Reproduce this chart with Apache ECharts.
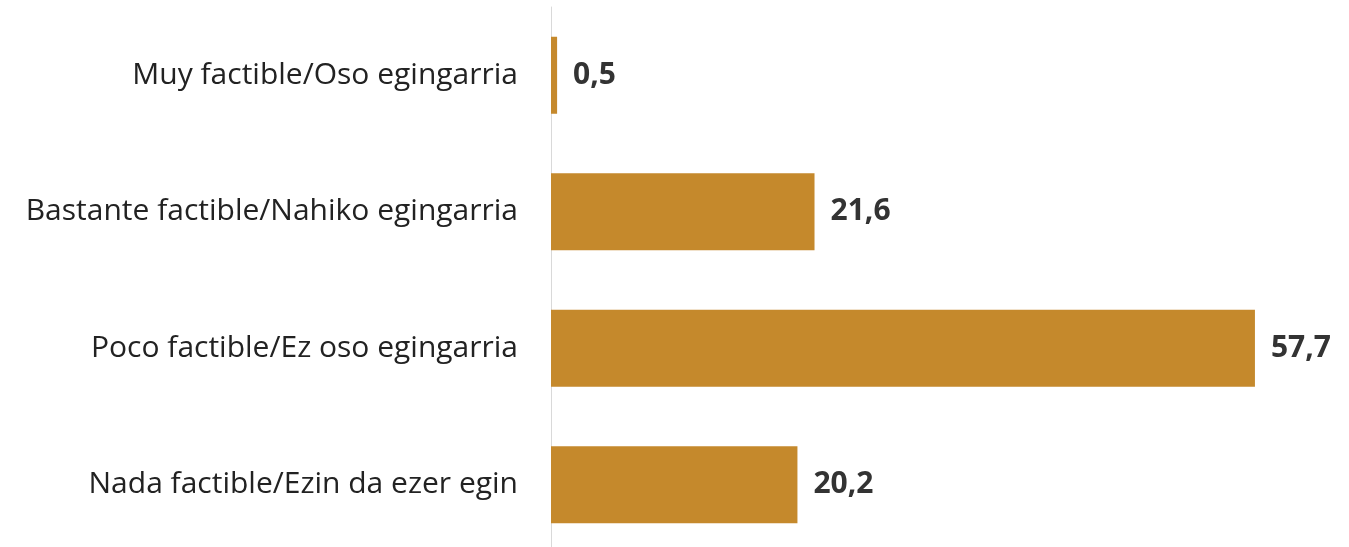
<!DOCTYPE html>
<html>
<head>
<meta charset="utf-8">
<script src="https://cdn.jsdelivr.net/npm/echarts@6/dist/echarts.min.js"></script>
<style>
  html, body { margin: 0; padding: 0; background: #fff; overflow: hidden; }
  #chart { width: 1349px; height: 560px; }
</style>
</head>
<body>
<div id="chart"></div>
<script>
const categories = [
  "Muy factible/Oso egingarria",
  "Bastante factible/Nahiko egingarria",
  "Poco factible/Ez oso egingarria",
  "Nada factible/Ezin da ezer egin"
];
const values = [0.5, 21.6, 57.7, 20.2];

const chart = echarts.init(document.getElementById("chart"));
const option = {
  animation: false,
  grid: { left: 551, top: 7, width: 732, height: 546 },
  xAxis: {
    type: "value",
    min: 0,
    max: 60,
    show: false
  },
  yAxis: {
    type: "category",
    inverse: true,
    data: categories,
    axisLine: { show: true, lineStyle: { color: "#d9d9d9", width: 1 } },
    axisTick: { show: false },
    axisLabel: {
      color: "#222",
      fontFamily: "Open Sans",
      fontSize: 30,
      margin: 33
    }
  },
  series: [
    {
      type: "bar",
      data: values,
      barWidth: 77,
      itemStyle: { color: "#C5892C" },
      label: {
        show: true,
        position: "right",
        distance: 16,
        color: "#333",
        fontFamily: "Open Sans",
        fontWeight: "bold",
        fontSize: 30,
        formatter: p => String(p.value).replace(".", ",")
      }
    }
  ]
};
chart.setOption(option);
</script>
</body>
</html>
